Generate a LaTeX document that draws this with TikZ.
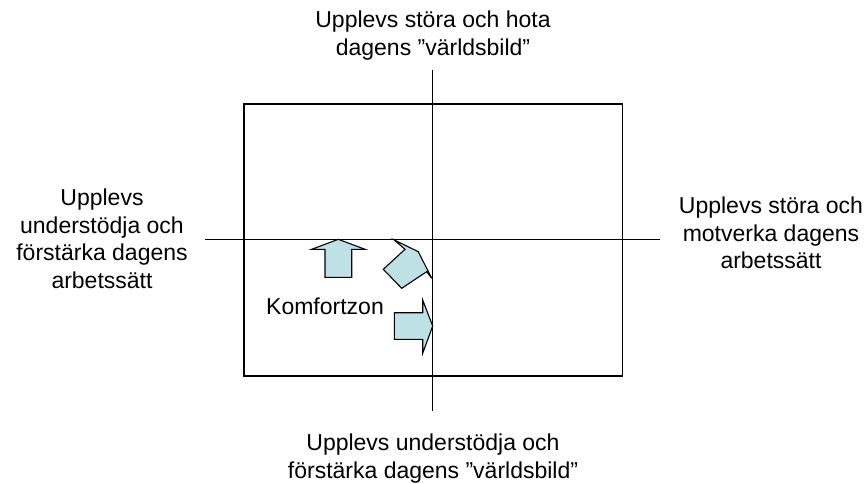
\documentclass[tikz,border=0pt]{standalone}
\usepackage{fontspec}
\setmainfont{Liberation Sans}
\definecolor{arrowfill}{RGB}{189,225,228}
\begin{document}
\begin{tikzpicture}[x=1pt,y=-1pt,
  lbl/.style={inner sep=0pt,align=center,font=\fontsize{23}{27.5}\selectfont},
  axis/.style={line width=1.5pt},
  blockarrow/.style={draw=black,line width=1.1pt,fill=arrowfill,line join=miter}]
\useasboundingbox (0,0) rectangle (868,484);
% frame
\node[draw,line width=1.5pt,minimum width=378.4pt,minimum height=271.7pt,inner sep=0pt,anchor=north west] (frame) at (243.3,103.3) {};
% axes
\coordinate (vtop) at (432.7,70);
\coordinate (vbot) at (432.7,411);
\coordinate (hl) at (205,239.3);
\coordinate (hr) at (660,239.3);
\draw[axis] (vtop) -- (vbot);
\draw[axis] (hl) -- (hr);
% labels (anchor base = baseline of last line)
\node[lbl,anchor=base] (top) at (433,55.5) {Upplevs störa och hota\\dagens ”världsbild”};
\node[lbl,anchor=base] (bottom) at (433,478) {Upplevs understödja och\\förstärka dagens ”världsbild”};
\node[lbl,anchor=base] (left) at (102,288) {Upplevs\\understödja och\\förstärka dagens\\arbetssätt};
\node[lbl,anchor=base] (right) at (771,268.5) {Upplevs störa och\\motverka dagens\\arbetssätt};
\node[lbl,anchor=base west] (komfort) at (266,314) {Komfortzon};
% arrows
\draw[blockarrow] (338.3,239.3) -- (365,249.3) -- (351.7,249.3) -- (351.7,277.3) -- (325,277.3) -- (325,249.3) -- (311.7,249.3) -- cycle;
\draw[blockarrow] (394.3,240) -- (418.3,251.7) -- (431.7,278.3) -- (426.7,271.7) -- (401.7,288.3) -- (383.3,269.3) -- (405,249.3) -- cycle;
\draw[blockarrow] (432.7,326) -- (422.7,353.3) -- (422.7,339.3) -- (394.3,339.3) -- (394.3,312.7) -- (422.7,312.7) -- (422.7,300) -- cycle;
\end{tikzpicture}
\end{document}
